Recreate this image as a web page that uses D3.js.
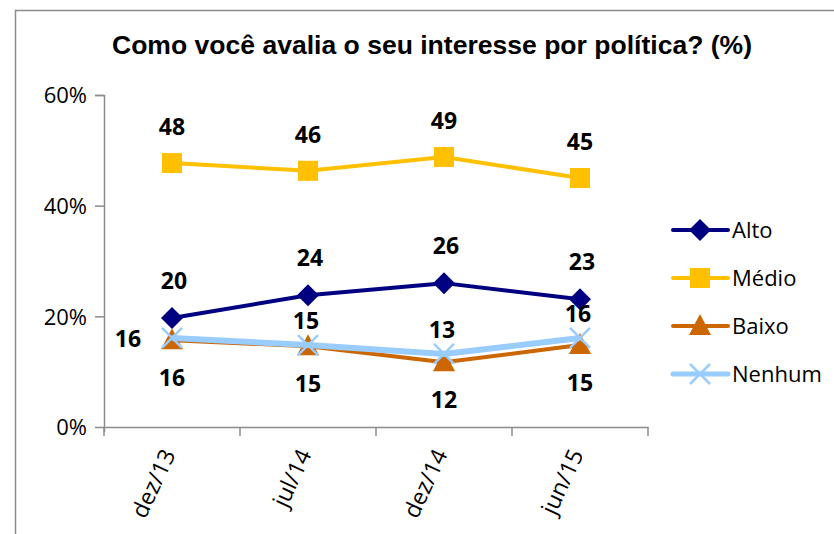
<!DOCTYPE html>
<html>
<head>
<meta charset="utf-8">
<script src="https://cdn.jsdelivr.net/npm/d3@7"></script>
<style>
  body { margin: 0; background: #fff; }
  svg { display: block; }
  .tick text { font-family: "Open Sans", "Noto Sans", sans-serif; font-size: 22px; fill: #000; }
  .lbl { font-family: "Open Sans", "Noto Sans", sans-serif; font-size: 23px; font-weight: bold; fill: #000; }
  .xlbl { font-family: "Open Sans", "Noto Sans", sans-serif; font-size: 23px; fill: #000; }
</style>
</head>
<body>
<div class="chart"></div>
<script>
// Interesse por politica - line chart

var categories = ["dez/13", "jul/14", "dez/14", "jun/15"];
var seriesNames = ["Alto", "Médio", "Baixo", "Nenhum"];
var alto = [19.7, 23.8, 26.0, 23.1];
var medio = [47.7, 46.3, 48.8, 45.0];
var baixo = [15.7, 14.6, 11.7, 14.8];
var nenhum = [16.1, 14.8, 13.2, 16.1];
var altoLabels = [20, 24, 26, 23];
var medioLabels = [48, 46, 49, 45];
var baixoLabels = [16, 15, 12, 15];
var nenhumLabels = [16, 15, 13, 16];
var yTicks = [0, 20, 40, 60];

var svgWidth = 834, svgHeight = 534;
var margin = { top: 95, left: 104 };
var width = 544, height = 332;

var svg = d3.select(".chart").append("svg")
  .attr("width", svgWidth)
  .attr("height", svgHeight);

// outer frame (runs off the right and bottom)
svg.append("rect")
  .attr("x", 15.5).attr("y", 10.5)
  .attr("width", 900).attr("height", 600)
  .attr("fill", "none")
  .attr("stroke", "#8c8c8c")
  .attr("stroke-width", 1.5);

svg.append("text")
  .attr("x", 432).attr("y", 54)
  .attr("text-anchor", "middle")
  .attr("font-family", "Liberation Sans, Arial, sans-serif")
  .attr("font-size", "26px")
  .attr("font-weight", "bold")
  .attr("textLength", 640)
  .attr("lengthAdjust", "spacingAndGlyphs")
  .text("Como você avalia o seu interesse por política? (%)");

var chartGroup = svg.append("g")
  .attr("transform", `translate(${margin.left}, ${margin.top})`);

var xScale = d3.scaleBand().domain(categories).range([0, width]);
var yScale = d3.scaleLinear().domain([0, 60]).range([height, 0]);

// axes
var xAxis = chartGroup.append("g")
  .attr("transform", `translate(0, ${height})`)
  .call(d3.axisBottom(xScale).tickSize(0).tickFormat(""));
xAxis.select(".domain").attr("stroke", "#8c8c8c").attr("stroke-width", 1.5);
xAxis.selectAll(".xt")
  .data(d3.range(categories.length + 1))
  .enter().append("line")
  .attr("x1", d => d * xScale.step()).attr("x2", d => d * xScale.step())
  .attr("y1", 0).attr("y2", 9)
  .attr("stroke", "#8c8c8c").attr("stroke-width", 1.5);

xAxis.selectAll(".xl")
  .data(categories)
  .enter().append("text")
  .attr("class", "xlbl")
  .attr("text-anchor", "end")
  .attr("transform", d => `translate(${xScale(d) + xScale.bandwidth() / 2 + 4}, 27) rotate(-65)`)
  .text(d => d);

var yAxis = chartGroup.append("g")
  .call(d3.axisLeft(yScale).tickValues(yTicks).tickSize(9).tickPadding(8).tickFormat(d => d + "%"));
yAxis.select(".domain").attr("stroke", "#8c8c8c").attr("stroke-width", 1.5).attr("d", `M-9,0.5H0.5V${height + 5}`);
yAxis.selectAll(".tick line").attr("stroke", "#8c8c8c").attr("stroke-width", 1.5);
yAxis.selectAll(".tick text").attr("dy", "0.35em");

var cx = d => xScale(d) + xScale.bandwidth() / 2;

var series = [
  { name: "Alto", values: alto, labels: altoLabels, color: "#000080", marker: "diamond" },
  { name: "Médio", values: medio, labels: medioLabels, color: "#ffc000", marker: "square" },
  { name: "Baixo", values: baixo, labels: baixoLabels, color: "#cc6600", marker: "triangle" },
  { name: "Nenhum", values: nenhum, labels: nenhumLabels, color: "#99ccff", marker: "x" }
];

function drawMarker(g, type, color) {
  if (type === "diamond") {
    g.append("path").attr("d", "M0,-11L11,0L0,11L-11,0Z").attr("fill", color);
  } else if (type === "square") {
    g.append("rect").attr("x", -10).attr("y", -10).attr("width", 20).attr("height", 20).attr("fill", color);
  } else if (type === "triangle") {
    g.append("path").attr("d", "M0,-12L11,9L-11,9Z").attr("fill", color);
  } else {
    g.append("path").attr("d", "M-10,-10L10,10M10,-10L-10,10")
      .attr("stroke", color).attr("stroke-width", 2.5).attr("fill", "none");
  }
}

var line = d3.line();

// draw in Excel order, Nenhum on top
series.forEach(function(s) {
  var pts = categories.map((c, i) => [cx(c), yScale(s.values[i])]);
  chartGroup.append("path")
    .attr("d", line(pts))
    .attr("fill", "none")
    .attr("stroke", s.color)
    .attr("stroke-width", s.name === "Nenhum" ? 6 : 4)
    .attr("stroke-linejoin", "round");
  pts.forEach(function(p) {
    var g = chartGroup.append("g").attr("transform", `translate(${p[0]}, ${p[1]})`);
    drawMarker(g, s.marker, s.color);
  });
});

// data labels
function addLabels(s, fn) {
  categories.forEach(function(c, i) {
    var pos = fn(i, cx(c), yScale(s.values[i]));
    chartGroup.append("text")
      .attr("class", "lbl")
      .attr("x", pos[0]).attr("y", pos[1])
      .attr("text-anchor", "middle")
      .text(s.labels[i]);
  });
}
addLabels(series[0], (i, x, y) => [x + 2, y - 29]);
addLabels(series[1], (i, x, y) => [x, y - 28]);
addLabels(series[2], (i, x, y) => [x, y + 46]);
addLabels(series[3], (i, x, y) => i === 0 ? [x - 44, y + 9] : [x - 2, y - 16]);

// legend
var legend = svg.append("g").attr("transform", "translate(673, 230)");
series.forEach(function(s, i) {
  var g = legend.append("g").attr("transform", `translate(0, ${i * 48})`);
  g.append("line").attr("x1", 0).attr("x2", 55).attr("y1", 0).attr("y2", 0)
    .attr("stroke", s.color).attr("stroke-width", s.name === "Nenhum" ? 5 : 4).attr("stroke-linecap", "round");
  var m = g.append("g").attr("transform", "translate(27, 0)");
  drawMarker(m, s.marker, s.color);
  g.append("text")
    .attr("x", 59).attr("y", 0).attr("dy", "0.35em")
    .attr("font-family", "Open Sans, Noto Sans, sans-serif")
    .attr("font-size", "22px")
    .text(s.name);
});
</script>
</body>
</html>
